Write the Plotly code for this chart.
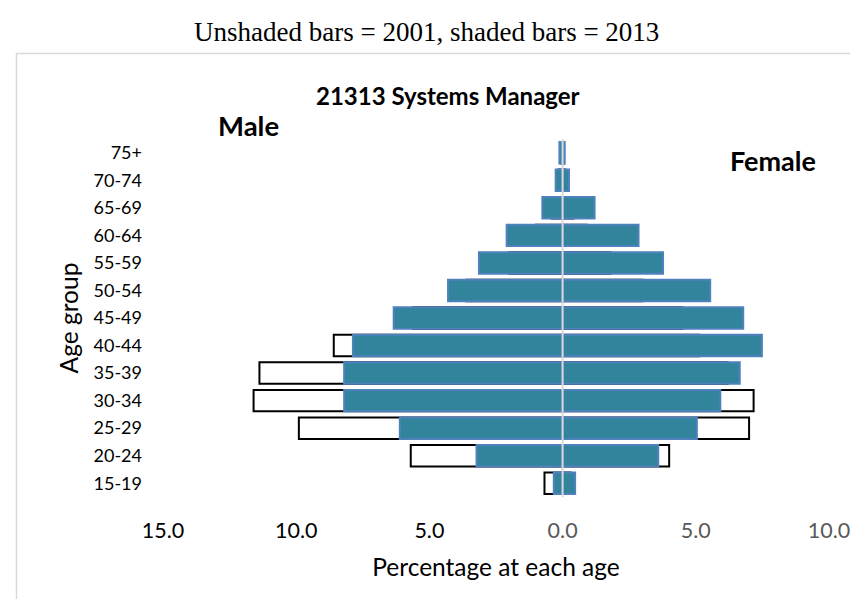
import plotly.graph_objects as go

age_groups = ["15-19", "20-24", "25-29", "30-34", "35-39", "40-44", "45-49",
              "50-54", "55-59", "60-64", "65-69", "70-74", "75+"]

male_2001 = [0.68, 5.7, 9.9, 11.6, 11.38, 8.59, 5.6, 3.6, 2.0, 1.0, 0.4, 0.15, 0.05]
female_2001 = [0.3, 4.0, 7.0, 7.17, 6.2, 5.13, 4.5, 3.0, 1.8, 0.9, 0.4, 0.1, 0.05]
male_2013 = [0.33, 3.23, 6.11, 8.2, 8.2, 7.87, 6.34, 4.3, 3.14, 2.1, 0.76, 0.26, 0.12]
female_2013 = [0.47, 3.59, 5.04, 5.92, 6.65, 7.48, 6.78, 5.54, 3.77, 2.85, 1.2, 0.24, 0.08]

x_tick_values = [-15, -10, -5, 0, 5, 10]
x_tick_labels = ["15.0", "10.0", "5.0", "0.0", "5.0", "10.0"]
x_tick_colors = ["#000000", "#000000", "#000000", "#595959", "#595959", "#595959"]

TEAL = "#31849B"
OUTLINE = "#4F81BD"
FONT = "Lato"

fig = go.Figure()
bw = 0.78
fig.add_trace(go.Bar(y=age_groups, x=[-v for v in male_2001], orientation="h", width=bw,
                     marker=dict(color="white", line=dict(color="black", width=2)),
                     name="Male 2001", showlegend=False))
fig.add_trace(go.Bar(y=age_groups, x=female_2001, orientation="h", width=bw,
                     marker=dict(color="white", line=dict(color="black", width=2)),
                     name="Female 2001", showlegend=False))
fig.add_trace(go.Bar(y=age_groups, x=[-v for v in male_2013], orientation="h", width=bw,
                     marker=dict(color=TEAL, line=dict(color=OUTLINE, width=2)),
                     name="Male 2013", showlegend=False))
fig.add_trace(go.Bar(y=age_groups, x=female_2013, orientation="h", width=bw,
                     marker=dict(color=TEAL, line=dict(color=OUTLINE, width=2)),
                     name="Female 2013", showlegend=False))

ticktext = [f'<span style="color:{c}">{t}</span>' for t, c in zip(x_tick_labels, x_tick_colors)]

def px(xp):
    return (xp - 155) / 666

def py(yp):
    return (489 - yp) / 358

fig.update_layout(
    width=858, height=599,
    margin=dict(l=155, r=37, t=131, b=110),
    barmode="overlay",
    plot_bgcolor="white", paper_bgcolor="white",
    font=dict(family=FONT, size=18, color="#000000"),
    xaxis=dict(range=[-15, 10], tickvals=x_tick_values, ticktext=ticktext,
               showgrid=False, zeroline=False, showline=False, ticks="",
               ticklabelstandoff=18, tickfont=dict(size=21.5, color="#595959"),
               title=dict(text="Percentage at each age", font=dict(size=24.5), standoff=17)),
    yaxis=dict(type="category", categoryorder="array", categoryarray=age_groups,
               range=[-0.5, 12.5], showgrid=False, zeroline=False, showline=False,
               ticks="", ticklabelstandoff=20, tickfont=dict(size=18),
               title=dict(text="Age group", font=dict(size=24.5), standoff=7)),
    shapes=[
        dict(type="line", xref="x", yref="paper", x0=0, x1=0, y0=0, y1=1,
             line=dict(color="#D9D9D9", width=2), layer="above"),
        dict(type="line", xref="paper", yref="paper", x0=px(8), x1=2,
             y0=py(45.5), y1=py(45.5), line=dict(color="#D9D9D9", width=1.5)),
        dict(type="line", xref="paper", yref="paper", x0=px(8.5), x1=px(8.5),
             y0=-2, y1=py(45), line=dict(color="#D9D9D9", width=1.5)),
    ],
    annotations=[
        dict(text="Unshaded bars = 2001, shaded bars = 2013", xref="paper", yref="paper",
             x=px(418), y=py(24), showarrow=False, xanchor="center", yanchor="middle",
             font=dict(family="Liberation Serif", size=27, color="#000000")),
        dict(text="<b>21313 Systems Manager</b>", xref="paper", yref="paper",
             x=px(440), y=py(87), showarrow=False, xanchor="center", yanchor="middle",
             font=dict(family=FONT, size=24, color="#000000")),
        dict(text="<b>Male</b>", xref="paper", yref="paper",
             x=px(240), y=py(118), showarrow=False, xanchor="center", yanchor="middle",
             font=dict(family=FONT, size=27.5, color="#000000")),
        dict(text="<b>Female</b>", xref="paper", yref="paper",
             x=px(765), y=py(152), showarrow=False, xanchor="center", yanchor="middle",
             font=dict(family=FONT, size=27, color="#000000")),
    ],
)

fig.write_html("out.html")
